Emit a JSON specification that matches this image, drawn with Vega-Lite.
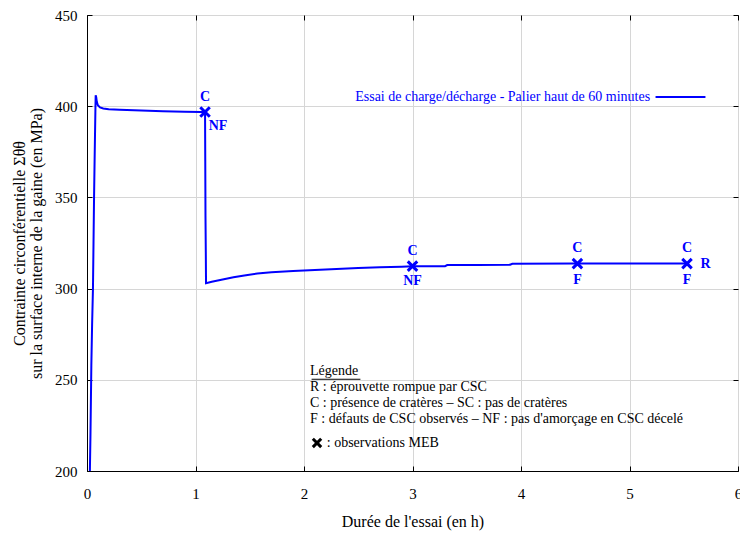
{
  "$schema": "https://vega.github.io/schema/vega-lite/v6.json",
  "width": 651,
  "height": 456,
  "autosize": "none",
  "padding": {"left": 87, "top": 15, "right": 2, "bottom": 63},
  "background": "white",
  "config": {
    "font": "Liberation Serif, Times New Roman, serif",
    "view": {"stroke": "black", "strokeWidth": 1},
    "axis": {
      "labelFont": "Liberation Serif, Times New Roman, serif",
      "labelFontSize": 15,
      "labelColor": "black",
      "titleFont": "Liberation Serif, Times New Roman, serif",
      "titleFontSize": 16,
      "titleFontWeight": "normal",
      "titleColor": "black",
      "gridColor": "#d6d6d6",
      "gridWidth": 1,
      "domainColor": "black",
      "tickColor": "black",
      "tickSize": -5,
      "tickWidth": 1
    },
    "text": {"font": "Liberation Serif, Times New Roman, serif"}
  },
  "datasets": {
    "curve": [
      {"t": 0.026, "s": 198},
      {"t": 0.032, "s": 220},
      {"t": 0.040, "s": 258},
      {"t": 0.047, "s": 280},
      {"t": 0.055, "s": 300},
      {"t": 0.060, "s": 325},
      {"t": 0.065, "s": 350},
      {"t": 0.070, "s": 370},
      {"t": 0.074, "s": 385},
      {"t": 0.078, "s": 400},
      {"t": 0.080, "s": 406},
      {"t": 0.085, "s": 405},
      {"t": 0.090, "s": 402.5},
      {"t": 0.100, "s": 400.5},
      {"t": 0.120, "s": 399.3},
      {"t": 0.150, "s": 398.7},
      {"t": 0.200, "s": 398.3},
      {"t": 0.300, "s": 398.0},
      {"t": 0.500, "s": 397.6},
      {"t": 0.700, "s": 397.2},
      {"t": 0.900, "s": 397.0},
      {"t": 1.050, "s": 396.8},
      {"t": 1.088, "s": 396.8},
      {"t": 1.090, "s": 370},
      {"t": 1.092, "s": 340},
      {"t": 1.095, "s": 320},
      {"t": 1.097, "s": 303},
      {"t": 1.150, "s": 303.8},
      {"t": 1.250, "s": 305.0},
      {"t": 1.350, "s": 306.2},
      {"t": 1.450, "s": 307.2},
      {"t": 1.570, "s": 308.3},
      {"t": 1.700, "s": 309.0},
      {"t": 1.900, "s": 309.6},
      {"t": 2.100, "s": 310.2},
      {"t": 2.300, "s": 310.8},
      {"t": 2.500, "s": 311.3},
      {"t": 2.700, "s": 311.7},
      {"t": 2.900, "s": 312.0},
      {"t": 3.000, "s": 312.2},
      {"t": 3.300, "s": 312.3},
      {"t": 3.320, "s": 312.9},
      {"t": 3.600, "s": 313.0},
      {"t": 3.900, "s": 313.1},
      {"t": 3.920, "s": 313.6},
      {"t": 4.500, "s": 313.7},
      {"t": 5.000, "s": 313.7},
      {"t": 5.530, "s": 313.7}
    ],
    "markers": [
      {"t": 1.088, "s": 396.8},
      {"t": 3.0, "s": 312.3},
      {"t": 4.52, "s": 313.7},
      {"t": 5.53, "s": 313.7}
    ],
    "labels": [
      {"t": 1.088, "s": 405.0, "label": "C"},
      {"t": 1.207, "s": 389.1, "label": "NF"},
      {"t": 3.0, "s": 320.6, "label": "C"},
      {"t": 3.0, "s": 304.0, "label": "NF"},
      {"t": 4.52, "s": 322.0, "label": "C"},
      {"t": 4.52, "s": 304.5, "label": "F"},
      {"t": 5.53, "s": 322.0, "label": "C"},
      {"t": 5.53, "s": 304.5, "label": "F"},
      {"t": 5.70, "s": 313.5, "label": "R"}
    ],
    "legendText": [
      {"t": 2.055, "s": 254.8, "text": "Légende"},
      {"t": 2.055, "s": 246.1, "text": "R : éprouvette rompue par CSC"},
      {"t": 2.055, "s": 237.3, "text": "C : présence de  cratères  –  SC : pas de  cratères"},
      {"t": 2.055, "s": 228.5, "text": "F : défauts de CSC observés  – NF : pas d'amorçage en CSC décelé"},
      {"t": 2.21, "s": 215.4, "text": ": observations MEB"}
    ],
    "underline": [{"t": 2.07, "t2": 2.52, "s": 250.3}],
    "meb": [{"t": 2.12, "s": 215.4}],
    "seriesLabel": [{"t": 5.19, "s": 405.0, "text": "Essai de charge/décharge - Palier haut de 60 minutes"}],
    "seriesLine": [{"t": 5.24, "t2": 5.70, "s": 405.0}]
  },
  "layer": [
    {
      "data": {"name": "curve"},
      "mark": {"type": "line", "color": "#0000ff", "strokeWidth": 2, "clip": true, "interpolate": "linear"},
      "encoding": {
        "x": {"field": "t", "type": "quantitative", "scale": {"domain": [0, 6], "nice": false},
          "axis": {"orient": "bottom", "values": [0, 1, 2, 3, 4, 5, 6], "grid": true, "labelPadding": 20, "title": "Durée de l'essai (en h)", "titlePadding": 12, "labelFlush": false}},
        "y": {"field": "s", "type": "quantitative", "scale": {"domain": [200, 450], "nice": false, "zero": false},
          "axis": {"orient": "left", "values": [200, 250, 300, 350, 400, 450], "grid": true, "labelPadding": 15, "title": ["Contrainte circonférentielle  Σθθ", "sur la surface interne de la gaine (en MPa)"], "titlePadding": 10, "titleLineHeight": 17, "labelFlush": false}}
      }
    },
    {
      "data": {"name": "curve"},
      "mark": {"type": "line", "strokeOpacity": 0},
      "encoding": {
        "x": {"field": "t", "type": "quantitative", "axis": {"orient": "top", "values": [0, 1, 2, 3, 4, 5, 6], "labels": false, "title": null, "grid": false, "domain": false}},
        "y": {"field": "s", "type": "quantitative", "axis": {"orient": "right", "values": [200, 250, 300, 350, 400, 450], "labels": false, "title": null, "grid": false, "domain": false}}
      }
    },
    {
      "data": {"name": "markers"},
      "mark": {"type": "point", "shape": "M-1,-1L1,1M-1,1L1,-1", "filled": false, "color": "#0000ff", "strokeWidth": 3, "size": 90, "opacity": 1},
      "encoding": {
        "x": {"field": "t", "type": "quantitative", "axis": null},
        "y": {"field": "s", "type": "quantitative", "axis": null}
      }
    },
    {
      "data": {"name": "labels"},
      "mark": {"type": "text", "color": "#0000ff", "fontWeight": "bold", "fontSize": 14, "align": "center", "baseline": "middle"},
      "encoding": {
        "x": {"field": "t", "type": "quantitative", "axis": null},
        "y": {"field": "s", "type": "quantitative", "axis": null},
        "text": {"field": "label"}
      }
    },
    {
      "data": {"name": "legendText"},
      "mark": {"type": "text", "color": "black", "fontSize": 14, "align": "left", "baseline": "middle"},
      "encoding": {
        "x": {"field": "t", "type": "quantitative", "axis": null},
        "y": {"field": "s", "type": "quantitative", "axis": null},
        "text": {"field": "text"}
      }
    },
    {
      "data": {"name": "underline"},
      "mark": {"type": "rule", "color": "black", "strokeWidth": 1},
      "encoding": {
        "x": {"field": "t", "type": "quantitative", "axis": null},
        "x2": {"field": "t2"},
        "y": {"field": "s", "type": "quantitative", "axis": null}
      }
    },
    {
      "data": {"name": "meb"},
      "mark": {"type": "point", "shape": "M-1,-1L1,1M-1,1L1,-1", "filled": false, "color": "black", "strokeWidth": 3, "size": 70, "opacity": 1},
      "encoding": {
        "x": {"field": "t", "type": "quantitative", "axis": null},
        "y": {"field": "s", "type": "quantitative", "axis": null}
      }
    },
    {
      "data": {"name": "seriesLabel"},
      "mark": {"type": "text", "color": "#0000ff", "fontSize": 14, "align": "right", "baseline": "middle"},
      "encoding": {
        "x": {"field": "t", "type": "quantitative", "axis": null},
        "y": {"field": "s", "type": "quantitative", "axis": null},
        "text": {"field": "text"}
      }
    },
    {
      "data": {"name": "seriesLine"},
      "mark": {"type": "rule", "color": "#0000ff", "strokeWidth": 2},
      "encoding": {
        "x": {"field": "t", "type": "quantitative", "axis": null},
        "x2": {"field": "t2"},
        "y": {"field": "s", "type": "quantitative", "axis": null}
      }
    }
  ],
  "resolve": {"axis": {"x": "independent", "y": "independent"}}
}
